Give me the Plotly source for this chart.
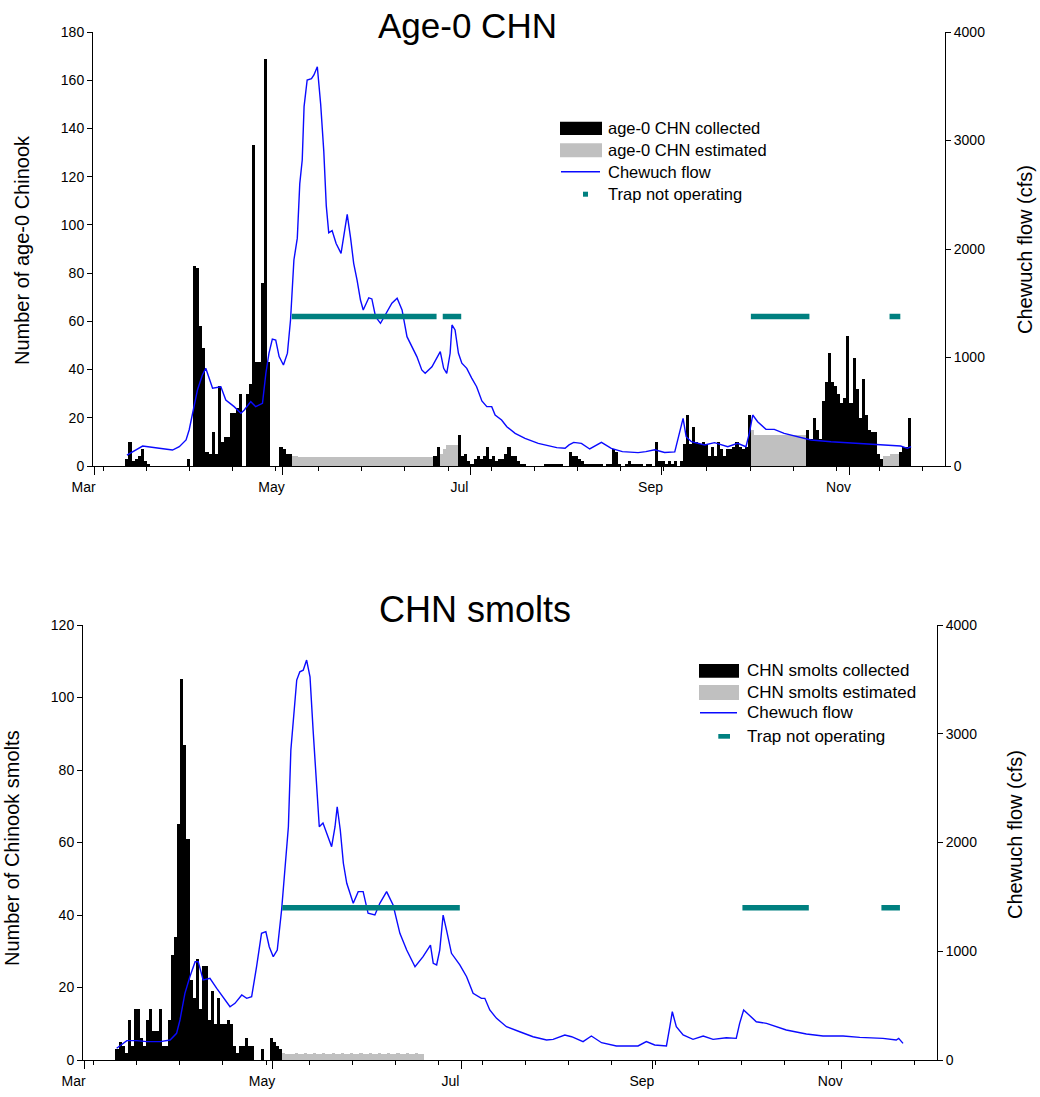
import pandas as pd
import plotly.graph_objects as go

# ---------------- DATA ----------------
season_start = "2015-03-01"          # day 0 of the season
month_ticks_start = "2015-03-01"

# Top panel: age-0 Chinook collected, daily counts starting at day 10 (Mar 11)
age0_first_day = 10
age0_collected = (
    [3, 10, 2, 3, 4, 7, 2, 1] + [0] * 12 + [3, 0] +
    [83, 82, 58, 49, 6, 5, 14, 5, 33, 10, 12, 12, 22, 22, 24, 30, 0, 30, 34, 133, 43, 43, 76, 169, 43, 0] +
    [0, 0] + [8, 7, 5, 5] + [0] * 46 + [4, 8] + [0] * 6 +
    [13, 4, 5, 2, 1, 3, 4, 3, 4, 8, 3, 4, 2, 3, 3, 5, 8, 4, 4, 2, 1, 1] + [0] * 6 +
    [1, 1, 1, 1, 1, 1, 0, 0] +
    [6, 4, 4, 3, 2, 1, 1, 1, 1, 1, 1, 0, 1, 1, 7, 6, 1] +
    [0, 1, 2, 1, 1, 1, 1, 0, 1, 1, 0] +
    [10, 2, 2, 1, 2, 1, 2, 0, 2] +
    [9, 21, 9, 16, 10, 9, 10, 9, 4, 8, 4, 10, 7, 4, 7, 7, 8, 10, 8, 7, 8, 21] + [0] * 18 +
    [15, 11, 20, 15, 11, 27, 35, 47, 35, 33, 30, 26, 28, 54, 26, 45, 32, 20, 36, 21, 15, 14, 14, 5, 3] +
    [0] * 5 + [6, 8, 8, 20]
)
# Top panel: age-0 Chinook estimated (blocks: first day, daily values)
age0_est_may_day = 64
age0_est_may = [4.2, 4.0, 3.8, 3.7, 3.8, 3.6, 3.8, 3.7, 3.8, 3.6, 3.8, 3.7, 3.8, 3.6, 3.8, 3.7,
                 3.8, 3.6, 3.8, 3.7, 3.8, 3.6, 3.8, 3.7, 3.8, 3.6, 3.8, 3.7, 3.8, 3.6, 3.8, 3.7,
                 3.8, 3.6, 3.8, 3.7, 3.8, 3.6, 3.8, 3.7, 3.8, 3.6, 3.8, 3.7, 3.8, 3.6]
age0_est_jun_day = 112
age0_est_jun = [5, 7, 8.7, 8.7, 8.7, 8.7]
age0_est_oct_day = 213
age0_est_oct = [15, 13, 13, 13, 13, 13, 13, 13, 13, 13, 13, 13, 13, 13, 13, 13, 13, 13]
age0_est_nov_day = 256
age0_est_nov = [4, 4, 5, 5, 5]

# Bottom panel: Chinook smolts collected, daily counts starting at day 10
smolt_first_day = 10
smolt_collected = [3, 5, 4, 2, 11, 4, 14, 14, 6, 4, 11, 14, 8, 8, 14, 4, 4, 11, 29, 34, 65, 105, 87, 61,
                   22, 17, 28, 14, 26, 26, 11, 19, 10, 17, 10, 10, 11, 10, 4, 2, 4, 4, 6, 4, 4, 0, 0,
                   3, 0, 0, 6, 5, 4, 3]
smolt_est_day = 64
smolt_est = [1.8, 1.7, 1.6, 1.7, 1.8, 1.6, 1.7, 1.8, 1.6, 1.7, 1.8, 1.6, 1.7, 1.8, 1.6, 1.7,
             1.8, 1.6, 1.7, 1.8, 1.6, 1.7, 1.8, 1.6, 1.7, 1.8, 1.6, 1.7, 1.8, 1.6, 1.7, 1.8,
             1.6, 1.7, 1.8, 1.6, 1.7, 1.8, 1.6, 1.7, 1.8, 1.6, 1.7, 1.8, 1.6, 1.7]

# Chewuch flow (cfs), read at days since season start
flow_top_day = [10.5, 15.6, 21, 25.3, 27.5, 29.7, 30.7, 31.8, 33.4, 35, 36.1, 38.3, 41, 42.6, 45.3, 47.5,
                48.6, 50.7, 52.3, 54.5, 55.6, 56.6, 57.7, 58.8, 59.9, 61.3, 62.6, 63.6, 64.7, 65.8,
                66.6, 67.4, 68, 69, 70.4, 71.2, 72.3, 73.4, 74.4, 75.2, 76, 77.1, 78.4, 80, 81, 82,
                83.1, 84.1, 85.2, 86.3, 87.2, 89, 90, 91.2, 92.8, 94.4, 96.5, 98.2, 99.8, 101.4, 103,
                104.6, 106.2, 107.3, 109.5, 112.2, 113.3, 114.3, 115.4, 116, 117, 118.1, 119.2, 120.8,
                122.4, 124, 125.7, 127.3, 128.9, 130, 132.1, 133.8, 136.5, 139.7, 144, 147, 150, 152.7,
                154, 155.5, 158, 160.7, 164.5, 167.7, 171.3, 176.4, 178.9, 181.8, 185, 188.3, 189.6,
                190.3, 191, 192, 193.7, 198, 201.2, 205.5, 208.7, 211.4, 212.5, 213.6, 215.2, 217.9,
                220.6, 223.8, 228.2, 232.5, 239, 246.5, 254, 261.6, 263.8, 265]
flow_top_cfs = [101, 184, 163, 147, 178, 240, 332, 486, 700, 839, 900, 716, 731, 608, 547, 486,
                516, 593, 547, 578, 854, 1039, 1170, 1161, 1008, 931, 1040, 1346, 1899, 2100,
                2600, 2820, 3312, 3558, 3570, 3604, 3680, 3330, 2900, 2400, 2150, 2170, 2050, 1960, 2130, 2320,
                2100, 1868, 1714, 1530, 1438, 1550, 1540, 1376, 1315, 1392, 1500, 1546, 1438, 1192, 1100,
                1008, 885, 854, 915, 1054, 900, 854, 1039, 1300, 1254, 1039, 947, 900,
                810, 731, 600, 547, 547, 470, 424, 362, 301, 255, 209, 186, 169, 163,
                194, 218, 209, 157, 218, 163, 132, 123, 132, 150, 125, 130, 286,
                378, 439, 270, 224, 194, 215, 178, 209, 178, 301, 470, 408, 338,
                338, 301, 270, 240, 224, 209, 200, 184, 163, 178]

flow_bot_day = [10.4, 13.7, 16.9, 20.2, 24.5, 27.7, 29.8, 30.9, 32.5, 34.1, 35.8, 36.8, 38.4, 40.6, 42.8,
                44.9, 47.1, 48.7, 50.9, 52.5, 54.1, 55.7, 57.3, 58.7, 59.8, 61.1, 62.4, 63.8, 64.9, 66,
                66.8, 67.6, 68.7, 69.7, 70.8, 71.9, 73, 74, 75.1, 76, 77.2, 78.9, 80, 81.1, 81.8, 82.8,
                83.8, 84.9, 87, 88.6, 90.2, 91.8, 94, 95.6, 97.8, 99.9, 102.1, 104.3, 107, 109.6, 112,
                112.9, 114, 115, 116.1, 117.2, 118.8, 121.5, 123.7, 125.8, 128.5, 129.6, 131.2, 133.4,
                136.6, 140.9, 145.2, 149.6, 151.7, 155.5, 157.7, 161.4, 164.1, 167.4, 172.2, 179.2,
                181.9, 184.6, 188.4, 189.5, 190.3, 191.6, 193.8, 197, 200.3, 203.5, 207.8, 211, 212.1,
                213.4, 217.5, 220.8, 227.2, 233.7, 239.1, 245.6, 251, 258.5, 262.8, 263.6, 265]
flow_bot_cfs = [108, 178, 178, 169, 169, 184, 245, 368, 613, 766, 904, 904, 736, 751, 659,
                582, 490, 521, 598, 567, 582, 858, 1165, 1180, 1042, 950, 1011, 1379, 1777, 2145,
                2850, 3126, 3494, 3570, 3585, 3678, 3524, 3034, 2513, 2145, 2180, 2038, 1961, 2145, 2329, 2115,
                1809, 1625, 1441, 1548, 1548, 1349, 1333, 1441, 1548, 1425, 1165, 1011, 858, 950, 1057,
                889, 874, 1011, 1333, 1195, 981, 874, 766, 613, 567, 567, 460, 383,
                306, 260, 214, 184, 190, 230, 214, 169, 221, 159, 129, 129,
                169, 138, 129, 306, 444, 306, 230, 190, 221, 190, 205, 199, 337,
                460, 352, 337, 276, 239, 221, 221, 208, 199, 184, 199, 153]

# Trap not operating periods (plotted at a fixed level on the count axis)
trap_off_top_start = ["2015-05-04", "2015-06-22", "2015-09-30", "2015-11-14"]
trap_off_top_end = ["2015-06-20", "2015-06-28", "2015-10-19", "2015-11-17T12:00"]
trap_off_top_level = 62
trap_off_bot_start = ["2015-05-04", "2015-09-30", "2015-11-14"]
trap_off_bot_end = ["2015-06-30T12:00", "2015-10-21T12:00", "2015-11-20"]
trap_off_bot_level = 42

x_range = ["2015-02-28T12:00", "2015-12-02T00:00"]

# ---------------- HELPERS ----------------
W, H = 1040, 1097
FONT = "Liberation Sans, Arial, sans-serif"
base = pd.Timestamp(season_start)
DAY_MS = 86400000
BLUE = "#0a0aff"
TEAL = "#008080"
GRAY = "#c0c0c0"


def px(x):
    return x / W


def py(y):
    return 1 - y / H


def daily_dates(first_day, n):
    return [base + pd.Timedelta(days=first_day + i + 0.5) for i in range(n)]


def knot_dates(days):
    return [base + pd.Timedelta(days=d) for d in days]


def segments(starts, ends, level):
    xs, ys = [], []
    for s, e in zip(starts, ends):
        xs += [s, e, None]
        ys += [level, level, None]
    return xs, ys


fig = go.Figure()

# ---- top panel ----
fig.add_trace(go.Bar(x=daily_dates(age0_first_day, len(age0_collected)), y=age0_collected,
                     width=DAY_MS, marker=dict(color="black", line=dict(width=0)),
                     name="age-0 CHN collected", xaxis="x", yaxis="y", showlegend=False))
est_x = (daily_dates(age0_est_may_day, len(age0_est_may)) + daily_dates(age0_est_jun_day, len(age0_est_jun)) +
         daily_dates(age0_est_oct_day, len(age0_est_oct)) + daily_dates(age0_est_nov_day, len(age0_est_nov)))
est_y = age0_est_may + age0_est_jun + age0_est_oct + age0_est_nov
fig.add_trace(go.Bar(x=est_x, y=est_y, width=DAY_MS, marker=dict(color=GRAY, line=dict(width=0)),
                     name="age-0 CHN estimated", xaxis="x", yaxis="y", showlegend=False))
fig.add_trace(go.Scatter(x=knot_dates(flow_top_day), y=flow_top_cfs, mode="lines",
                         line=dict(color=BLUE, width=1.4), name="Chewuch flow",
                         xaxis="x", yaxis="y2", showlegend=False))
tx, ty = segments(trap_off_top_start, trap_off_top_end, trap_off_top_level)
fig.add_trace(go.Scatter(x=tx, y=ty, mode="lines", line=dict(color=TEAL, width=5.5),
                         name="Trap not operating", xaxis="x", yaxis="y5", showlegend=False))

# ---- bottom panel ----
fig.add_trace(go.Bar(x=daily_dates(smolt_first_day, len(smolt_collected)), y=smolt_collected,
                     width=DAY_MS, marker=dict(color="black", line=dict(width=0)),
                     name="CHN smolts collected", xaxis="x2", yaxis="y3", showlegend=False))
fig.add_trace(go.Bar(x=daily_dates(smolt_est_day, len(smolt_est)), y=smolt_est, width=DAY_MS,
                     marker=dict(color=GRAY, line=dict(width=0)),
                     name="CHN smolts estimated", xaxis="x2", yaxis="y3", showlegend=False))
fig.add_trace(go.Scatter(x=knot_dates(flow_bot_day), y=flow_bot_cfs, mode="lines",
                         line=dict(color=BLUE, width=1.4), name="Chewuch flow",
                         xaxis="x2", yaxis="y4", showlegend=False))
bx, by = segments(trap_off_bot_start, trap_off_bot_end, trap_off_bot_level)
fig.add_trace(go.Scatter(x=bx, y=by, mode="lines", line=dict(color=TEAL, width=5.5),
                         name="Trap not operating", xaxis="x2", yaxis="y6", showlegend=False))

tickfont = dict(family=FONT, size=14, color="black")


def xaxis_style(domain, anchor):
    return dict(domain=domain, anchor=anchor, type="date", range=x_range, automargin=False,
                tickformat="%b", dtick="M2", tick0=month_ticks_start,
                ticks="outside", ticklen=8, tickwidth=1, tickcolor="black",
                ticklabelshift=-11, tickfont=tickfont,
                showline=True, linecolor="black", linewidth=1, showgrid=False, zeroline=False,
                minor=dict(ticks="outside", ticklen=4, tickcolor="black",
                           dtick=14 * DAY_MS, tick0="2015-03-03T18:00", showgrid=False))


def yaxis_style(domain, anchor, rng, dtick, side):
    return dict(domain=domain, anchor=anchor, range=rng, dtick=dtick, side=side, automargin=False,
                ticks="outside", ticklen=5, tickcolor="black", tickfont=tickfont,
                showline=True, linecolor="black", linewidth=1, showgrid=False, zeroline=False)


top_dom = [py(466), py(32)]
bot_dom = [py(1060), py(625)]

fig.update_layout(
    width=W, height=H, autosize=False,
    margin=dict(l=0, r=0, t=0, b=0, pad=0, autoexpand=False),
    paper_bgcolor="white", plot_bgcolor="rgba(0,0,0,0)",
    barmode="overlay", bargap=0,
    font=dict(family=FONT, color="black"),
    showlegend=False,
    xaxis=xaxis_style([px(93), px(945)], "y"),
    xaxis2=xaxis_style([px(83), px(937)], "y3"),
    yaxis=yaxis_style(top_dom, "x", [0, 180], 20, "left"),
    yaxis2=dict(yaxis_style(top_dom, "x", [0, 4000], 1000, "right"), overlaying="y"),
    yaxis5=dict(overlaying="y", range=[0, 180], visible=False, anchor="x", automargin=False),
    yaxis3=yaxis_style(bot_dom, "x2", [0, 120], 20, "left"),
    yaxis4=dict(yaxis_style(bot_dom, "x2", [0, 4000], 1000, "right"), overlaying="y3"),
    yaxis6=dict(overlaying="y3", range=[0, 120], visible=False, anchor="x2", automargin=False),
)

# titles and axis titles
ann = [
    dict(text="Age-0 CHN", x=px(467), y=py(26), size=35, angle=0),
    dict(text="CHN smolts", x=px(475), y=py(610), size=36, angle=0),
    dict(text="Number of age-0 Chinook", x=px(22), y=py(250), size=20, angle=-90),
    dict(text="Chewuch flow (cfs)", x=px(1025), y=py(250), size=20, angle=-90),
    dict(text="Number of Chinook smolts", x=px(12), y=py(848), size=20, angle=-90),
    dict(text="Chewuch flow (cfs)", x=px(1015), y=py(835), size=20, angle=-90),
]
for a in ann:
    fig.add_annotation(text=a["text"], x=a["x"], y=a["y"], xref="paper", yref="paper",
                       showarrow=False, textangle=a["angle"], xanchor="center", yanchor="middle",
                       font=dict(family=FONT, size=a["size"], color="black"))


# manual legends
def legend(x_sym0, x_sym1, x_text, rows, labels, fsize):
    (b0, b1), (g0, g1), yl, (t_x0, t_x1, t0, t1) = rows
    fig.add_shape(type="rect", xref="paper", yref="paper", x0=px(x_sym0), x1=px(x_sym1),
                  y0=py(b1), y1=py(b0), fillcolor="black", line=dict(width=0))
    fig.add_shape(type="rect", xref="paper", yref="paper", x0=px(x_sym0), x1=px(x_sym1),
                  y0=py(g1), y1=py(g0), fillcolor=GRAY, line=dict(width=0))
    fig.add_shape(type="line", xref="paper", yref="paper", x0=px(x_sym0 + 1), x1=px(x_sym1 - 2),
                  y0=py(yl), y1=py(yl), line=dict(color=BLUE, width=1.4))
    fig.add_shape(type="rect", xref="paper", yref="paper", x0=px(t_x0), x1=px(t_x1),
                  y0=py(t1), y1=py(t0), fillcolor=TEAL, line=dict(width=0))
    ys = [(b0 + b1) / 2, (g0 + g1) / 2, yl, (t0 + t1) / 2]
    for lab, yy in zip(labels, ys):
        fig.add_annotation(text=lab, x=px(x_text), y=py(yy), xref="paper", yref="paper",
                           showarrow=False, xanchor="left", yanchor="middle",
                           font=dict(family=FONT, size=fsize, color="black"))


legend(560, 602, 606,
       [(121.7, 135), (143.3, 157.3), 171.7, (583, 588, 191.7, 196.7)],
       ["age-0 CHN collected", "age-0 CHN estimated", "Chewuch flow", "Trap not operating"], 16.5)
legend(699, 739, 745,
       [(664, 677.7), (685, 700), 712.7, (718.3, 730, 734, 738.7)],
       ["CHN smolts collected", "CHN smolts estimated", "Chewuch flow", "Trap not operating"], 17)

fig.write_html("out.html", post_script="document.body.style.margin='0';",
               config={"displayModeBar": False})
